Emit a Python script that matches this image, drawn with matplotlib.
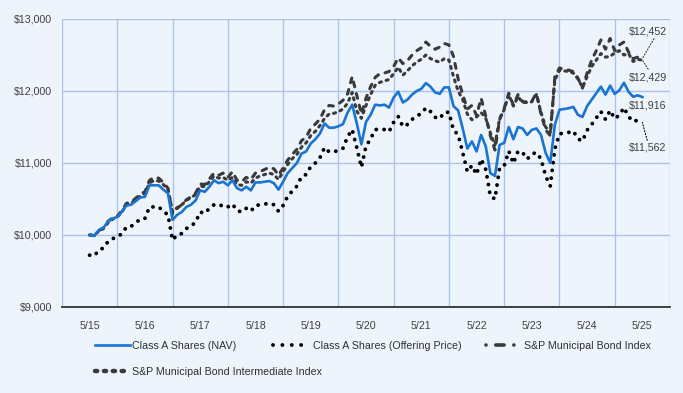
import numpy as np
import matplotlib.pyplot as plt
from matplotlib.lines import Line2D

# growth of $10,000, monthly values 5/15 .. 5/25

year_labels = ["5/15", "5/16", "5/17", "5/18", "5/19", "5/20", "5/21", "5/22", "5/23", "5/24", "5/25"]

nav = [10000, 9990, 10070, 10100, 10190, 10230, 10250, 10320, 10410, 10420, 10470, 10520,
       10530, 10690, 10690, 10690, 10630, 10580, 10210, 10280, 10320, 10390, 10420, 10480,
       10620, 10600, 10670, 10760, 10720, 10740, 10690, 10760, 10650, 10620, 10670, 10620,
       10730, 10730, 10740, 10750, 10720, 10630, 10740, 10860, 10930, 11000, 11130, 11160,
       11270, 11330, 11410, 11550, 11490, 11490, 11510, 11540, 11700, 11810, 11550, 11260,
       11570, 11670, 11810, 11800, 11810, 11770, 11910, 11990, 11840, 11880, 11950, 12000,
       12030, 12110, 12060, 11980, 11960, 12050, 12050, 11790, 11730, 11480, 11200, 11300,
       11160, 11390, 11230, 10860, 10820, 11250, 11280, 11500, 11330, 11500, 11480, 11390,
       11460, 11480, 11390, 11140, 11000, 11530, 11740, 11750, 11760, 11780, 11670, 11640,
       11790, 11880, 11970, 12060, 11950, 12075, 11960, 12010, 12115, 11990, 11920, 11940,
       11916]

offering = [9720, 9710, 9790, 9820, 9910, 9950, 9970, 10020, 10110, 10120, 10170, 10220,
            10230, 10390, 10390, 10390, 10330, 10280, 9930, 10000, 10020, 10090, 10120, 10180,
            10320, 10300, 10370, 10420, 10400, 10420, 10390, 10430, 10340, 10320, 10370, 10330,
            10410, 10420, 10430, 10440, 10420, 10330, 10410, 10540, 10610, 10680, 10810, 10840,
            10950, 11000, 11075, 11215, 11155, 11155, 11175, 11205, 11365, 11465, 11215, 10940,
            11235, 11335, 11465, 11465, 11465, 11435, 11565, 11645, 11505, 11535, 11605, 11655,
            11685, 11765, 11715, 11635, 11615, 11705, 11705, 11455, 11395, 11145, 10880, 10965,
            10840, 11055, 10910, 10540, 10500, 10930, 10960, 11165, 10995, 11165, 11145, 11055,
            11125, 11145, 11055, 10820, 10680, 11195, 11405, 11415, 11425, 11445, 11335, 11305,
            11455, 11535, 11625, 11715, 11605, 11730, 11615, 11665, 11770, 11645, 11575, 11595,
            11562]

muni = [10000, 9990, 10060, 10100, 10190, 10240, 10260, 10340, 10440, 10460, 10510, 10570,
        10600, 10760, 10800, 10790, 10730, 10650, 10290, 10370, 10420, 10490, 10530, 10580,
        10710, 10700, 10780, 10860, 10830, 10860, 10800, 10880, 10760, 10740, 10800, 10770,
        10860, 10880, 10910, 10940, 10920, 10830, 10930, 11040, 11120, 11190, 11310, 11360,
        11480, 11540, 11610, 11740, 11800, 11790, 11820, 11870, 11960, 12200, 11940, 11680,
        11900, 12060, 12190, 12240, 12250, 12270, 12340, 12460, 12380, 12420, 12500, 12560,
        12600, 12680, 12620, 12580, 12610, 12660, 12640, 12480, 12170, 11950, 11750, 11800,
        11660, 11900, 11650, 11380, 11180, 11600, 11760, 11970, 11800, 11950, 11850, 11850,
        11860, 11970, 11680, 11460, 11380, 12200, 12320, 12300, 12290, 12270, 12180, 12040,
        12250, 12430, 12560, 12710, 12580, 12730, 12560, 12640, 12680, 12540, 12450, 12470,
        12452]

muni_inter = [10000, 10000, 10050, 10090, 10170, 10220, 10250, 10320, 10420, 10440, 10490, 10540,
              10580, 10720, 10760, 10750, 10700, 10640, 10320, 10380, 10420, 10480, 10520, 10560,
              10680, 10670, 10740, 10820, 10790, 10800, 10760, 10800, 10700, 10690, 10740, 10720,
              10790, 10820, 10840, 10860, 10840, 10770, 10880, 10980, 11060, 11120, 11220, 11280,
              11380, 11440, 11520, 11620, 11680, 11690, 11710, 11750, 11830, 11980, 11720, 11620,
              11800, 11950, 12080, 12120, 12140, 12160, 12240, 12330, 12220, 12280, 12350, 12400,
              12440, 12500, 12450, 12420, 12400, 12450, 12430, 12200, 12000, 11880, 11680, 11600,
              11640, 11700, 11620, 11420, 11250, 11620, 11740, 11950, 11790, 11920, 11840, 11840,
              11850, 11950, 11700, 11500, 11420, 12150, 12290, 12280, 12270, 12250, 12170, 12050,
              12200, 12340, 12430, 12520, 12470, 12480, 12530, 12560, 12500, 12520, 12410, 12440,
              12429]

months = np.arange(len(nav))

plt.rcParams['font.family'] = ['Liberation Sans', 'DejaVu Sans']

bg = "#eef4fc"
grid_col = "#a9c3ec"
blue = "#1a74d2"
gray = "#3a3a3a"

fig = plt.figure(figsize=(6.83, 3.93), dpi=100, facecolor=bg)
ax = fig.add_axes([62/683, 86/393, 608/683, 288/393])
ax.set_facecolor(bg)

# index lines first, fund lines on top
ax.plot(months, muni, color=gray, lw=2.2, linestyle=(0, (1.6, 2.3)),
        dash_capstyle="round", label="S&P Municipal Bond Index", zorder=3)
ax.plot(months, muni_inter, color=gray, lw=2.2, linestyle=(0, (0.7, 1.6)),
        dash_capstyle="round", label="S&P Municipal Bond Intermediate Index", zorder=3)
ax.plot(months, offering, color="black", lw=2.8, linestyle=(0, (0.01, 2.0)),
        dash_capstyle="round", label="Class A Shares (Offering Price)", zorder=4)
ax.plot(months, nav, color=blue, lw=1.9, label="Class A Shares (NAV)", zorder=5)

ax.set_xlim(-6, 126)
ax.set_ylim(9000, 13000)

# year labels in the middle, grid lines between years
ax.set_xticks(np.arange(0, 121, 12))
ax.set_xticklabels(year_labels)
ax.set_xticks(np.arange(-6, 127, 12), minor=True)
ax.set_yticks([9000, 10000, 11000, 12000, 13000])
ax.set_yticklabels(["$9,000", "$10,000", "$11,000", "$12,000", "$13,000"])
ax.tick_params(axis="both", which="both", length=0, labelsize=7.7, colors="#404040")
ax.tick_params(axis="x", pad=10)
ax.tick_params(axis="y", pad=7)
ax.grid(axis="x", which="minor", color=grid_col, lw=1)
ax.grid(axis="y", which="major", color=grid_col, lw=1)
ax.set_axisbelow(True)

for s in ["top", "left", "right"]:
    ax.spines[s].set_visible(False)
ax.spines["bottom"].set_color("#333333")
ax.spines["bottom"].set_linewidth(1.3)
ax.spines["bottom"].set_zorder(6)

# end value labels with dotted leaders
end_labels = [("$12,452", muni[-1], 362, (0.7, 0), gray),
              ("$12,429", muni_inter[-1], 316, (0.55, 1), gray),
              ("$11,916", nav[-1], 288, (0.6, 1), blue),
              ("$11,562", offering[-1], 245, (0.5, 1), "black")]
for txt, val, ypix, rp, c in end_labels:
    ax.annotate(txt, xy=(months[-1], val), xytext=(648, ypix), textcoords="figure pixels",
                ha="center", va="center", fontsize=7.7, color="#404040",
                arrowprops=dict(arrowstyle="-", linestyle=":", color=c, lw=0.8,
                                shrinkA=0, shrinkB=0, relpos=rp),
                annotation_clip=False)

# legend, placed entry by entry
h_nav = Line2D([], [], color=blue, lw=1.9)
h_off = Line2D([], [], color="black", lw=2.8, linestyle=(0, (0.01, 2.4)), dash_capstyle="round")
h_muni = Line2D([], [], color=gray, lw=2.6, linestyle=(0, (0.01, 2.7, 2.3, 2.7)),
                dash_capstyle="round")
h_int = Line2D([], [], color=gray, lw=3.2, linestyle=(0, (0.5, 1.5)), dash_capstyle="round")

entries = [(h_nav, "Class A Shares (NAV)", 95, 346, 0.2),
           (h_off, "Class A Shares (Offering Price)", 273, 346, 0.4),
           (h_muni, "S&P Municipal Bond Index", 486, 346, 0.3),
           (h_int, "S&P Municipal Bond Intermediate Index", 95, 372, 0.2)]
for h, lab, xp, yp, tp in entries:
    fig.legend([h], [lab], loc="center left", bbox_to_anchor=(xp/683, 1 - yp/393),
               frameon=False, fontsize=7.7, handlelength=3.3, handletextpad=tp,
               borderpad=0, borderaxespad=0, labelcolor="#303030")

plt.savefig("out.png", dpi=100, facecolor=bg)
